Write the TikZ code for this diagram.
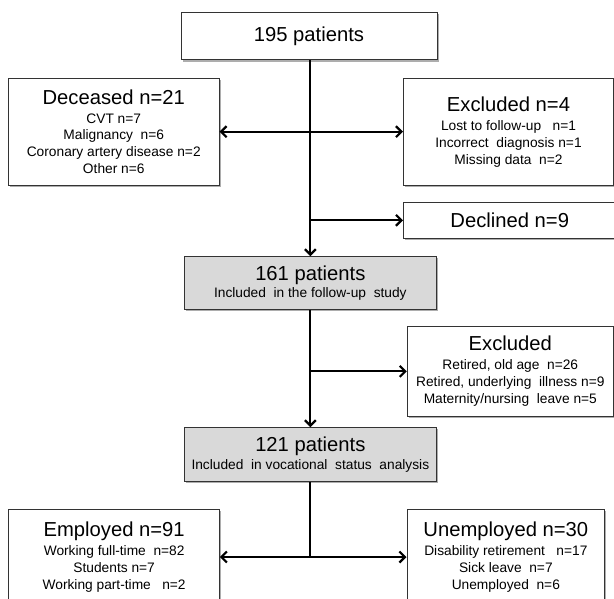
\documentclass[tikz,border=0pt]{standalone}
\usepackage{fontspec}
\setmainfont{Liberation Sans}
\usetikzlibrary{arrows.meta,shadows}
\definecolor{boxline}{HTML}{333333}
\definecolor{boxgray}{HTML}{D9D9D9}
\begin{document}
\begin{tikzpicture}[x=1bp,y=-1bp,
  box/.style={draw=boxline, line width=1bp, fill=white, align=center,
    inner sep=0pt, font=\fontsize{13.8}{17}\selectfont,
    drop shadow={shadow xshift=1.6bp, shadow yshift=-1.6bp, fill=black!40, opacity=0.8}},
  graybox/.style={box, fill=boxgray},
  big/.style={font=\fontsize{20.3}{22}\selectfont},
  conn/.style={line width=2.2bp, black},
  tip/.style={-{Straight Barb[length=5.5bp,width=11bp,line width=2.2bp]}},
  tips/.style={{Straight Barb[length=5.5bp,width=11bp,line width=2.2bp]}-{Straight Barb[length=5.5bp,width=11bp,line width=2.2bp]}}
]
\useasboundingbox (0,0) rectangle (614,599);
\fill[white] (0,0) rectangle (614,599);

\node[box, big, minimum width=256bp, minimum height=47.3bp] (top) at (309,36.3) {195 patients};

\node[box, minimum width=210.5bp, minimum height=106.7bp] (dec) at (113.75,131.7)
  {{\fontsize{20.3}{22}\selectfont Deceased n=21}\\[2bp]CVT n=7\\Malignancy\ \ n=6\\Coronary artery disease n=2\\Other n=6};

\node[box, minimum width=210bp, minimum height=106.7bp] (exc1) at (508.5,131.7)
  {{\fontsize{20.3}{22}\selectfont Excluded n=4}\\[2bp]Lost to follow-up\ \ \ n=1\\Incorrect\ \ diagnosis n=1\\Missing data\ \ n=2};

\node[box, big, minimum width=212.5bp, minimum height=36bp] (decl) at (509.75,220.3) {Declined n=9};

\node[graybox, minimum width=252.7bp, minimum height=52.6bp] (p161) at (310.35,283)
  {{\fontsize{20.3}{22}\selectfont 161 patients}\\Included\ \ in the follow-up\ \ study};

\node[box, minimum width=206bp, minimum height=90.7bp] (exc2) at (510.3,371.35)
  {{\fontsize{20.3}{22}\selectfont Excluded}\\[2bp]Retired, old age\ \ n=26\\Retired, underlying\ \ illness n=9\\Maternity/nursing\ \ leave n=5};

\node[graybox, minimum width=252.7bp, minimum height=54bp] (p121) at (310.35,454.7)
  {{\fontsize{20.3}{22}\selectfont 121 patients}\\[1.5bp]Included\ \ in vocational\ \ status\ \ analysis};

\node[box, minimum width=210.3bp, minimum height=96bp] (emp) at (114.15,557)
  {{\fontsize{20.3}{22}\selectfont Employed n=91}\\[2bp]Working full-time\ \ n=82\\Students n=7\\Working part-time\ \ \ n=2};

\node[box, minimum width=197.7bp, minimum height=96bp] (unemp) at (505.85,557)
  {{\fontsize{20.3}{22}\selectfont Unemployed n=30}\\[2bp]Disability retirement\ \ \ n=17\\Sick leave\ \ n=7\\Unemployed\ \ n=6};

% connectors
\draw[conn, tip] (p161.north |- top.south) -- (p161.north);
\draw[conn, tips] (dec.east) -- (exc1.west);
\draw[conn, tip] (p161.north |- decl.west) -- (decl.west);
\draw[conn, tip] (p161.south) -- (p121.north);
\draw[conn, tip] (p161.south |- exc2.west) -- (exc2.west);
\draw[conn] (p121.south) -- (p121.south |- emp.east);
\draw[conn, tips] (emp.east) -- (unemp.west);
\end{tikzpicture}
\end{document}
